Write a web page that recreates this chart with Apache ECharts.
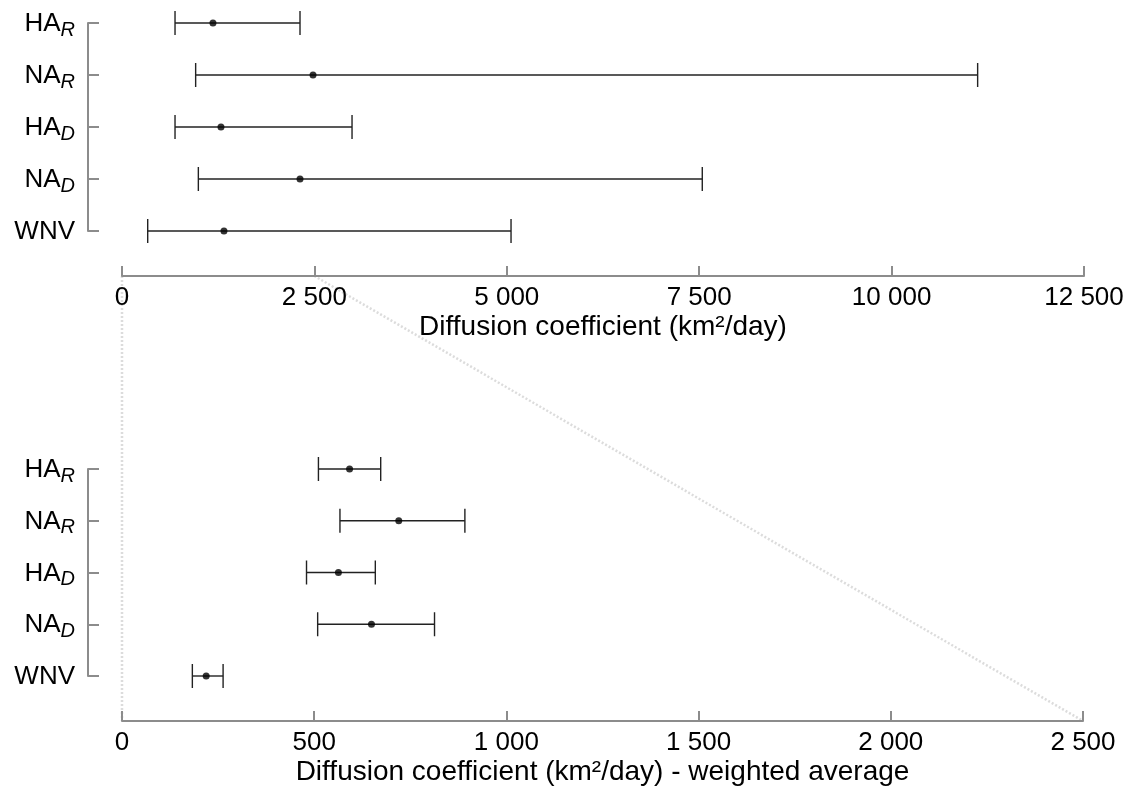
<!DOCTYPE html>
<html>
<head>
<meta charset="utf-8">
<script src="https://cdn.jsdelivr.net/npm/echarts@6/dist/echarts.min.js"></script>
<style>
  html, body { margin: 0; padding: 0; background: #fff; }
  #chart { width: 1133px; height: 789px; }
</style>
</head>
<body>
<div id="chart"></div>
<script>
// categories, top to bottom
const categories = ['HA_R', 'NA_R', 'HA_D', 'NA_D', 'WNV'];

// top panel: diffusion coefficient (km2/day)
const totalLow = [689, 957, 689, 992, 334];
const totalMean = [1182, 2482, 1286, 2313, 1325];
const totalHigh = [2313, 11118, 2989, 7540, 5055];

// bottom panel: weighted average
const weightedLow = [511, 567, 480, 509, 183];
const weightedMean = [592, 720, 563, 649, 219];
const weightedHigh = [673, 892, 659, 813, 263];

const FONT = '"Liberation Sans", Arial, Helvetica, sans-serif';
const AXIS_GRAY = '#8c8c8c';

const chart = echarts.init(document.getElementById('chart'));

const fmtNum = v => String(v).replace(/\B(?=(\d{3})+(?!\d))/g, ' ');

const catLabel = v => {
  const parts = v.split('_');
  return parts.length > 1 ? '{m|' + parts[0] + '}{s|' + parts[1] + '}' : '{m|' + v + '}';
};

const errorBars = (lows, highs) => categories.map((c, i) => [i, lows[i], highs[i]]);
const means = vals => categories.map((c, i) => [vals[i], i]);

const renderBar = (params, api) => {
  const cat = api.value(0);
  const lo = api.coord([api.value(1), cat]);
  const hi = api.coord([api.value(2), cat]);
  const h = 12;
  const style = { stroke: '#222', lineWidth: 1.4 };
  return {
    type: 'group',
    children: [
      { type: 'line', shape: { x1: lo[0], y1: lo[1], x2: hi[0], y2: hi[1] }, style },
      { type: 'line', shape: { x1: lo[0], y1: lo[1] - h, x2: lo[0], y2: lo[1] + h }, style },
      { type: 'line', shape: { x1: hi[0], y1: hi[1] - h, x2: hi[0], y2: hi[1] + h }, style }
    ]
  };
};

const xAxisBase = (gridIndex, max, interval, name) => ({
  type: 'value',
  gridIndex,
  min: 0,
  max,
  interval,
  offset: 45,
  name,
  nameLocation: 'middle',
  nameGap: 37,
  nameTextStyle: { color: '#000', fontSize: 28, fontFamily: FONT },
  axisLine: { show: true, onZero: false, lineStyle: { color: AXIS_GRAY, width: 2 } },
  axisTick: { show: true, inside: true, length: 10, lineStyle: { color: AXIS_GRAY, width: 2 } },
  axisLabel: { color: '#000', fontSize: 26, fontFamily: FONT, margin: 9, formatter: fmtNum },
  splitLine: { show: false }
});

const yAxisBase = gridIndex => ({
  type: 'category',
  gridIndex,
  data: categories,
  inverse: true,
  boundaryGap: false,
  offset: 34,
  axisLine: { show: true, onZero: false, lineStyle: { color: AXIS_GRAY, width: 2 } },
  axisTick: { show: true, inside: true, length: 11, lineStyle: { color: AXIS_GRAY, width: 2 } },
  axisLabel: {
    margin: 13,
    formatter: catLabel,
    rich: {
      m: { color: '#000', fontSize: 26, fontFamily: FONT, lineHeight: 28, verticalAlign: 'bottom' },
      s: { color: '#000', fontSize: 20, fontFamily: FONT, fontStyle: 'italic', lineHeight: 28, verticalAlign: 'bottom', padding: [0, 0, -3, 0] }
    }
  },
  splitLine: { show: false }
});

const option = {
  animation: false,
  backgroundColor: '#fff',
  grid: [
    { left: 122, right: 49, top: 23, height: 208 },
    { left: 122, right: 50, top: 469, height: 207 }
  ],
  xAxis: [
    xAxisBase(0, 12500, 2500, 'Diffusion coefficient (km²/day)'),
    xAxisBase(1, 2500, 500, 'Diffusion coefficient (km²/day) - weighted average')
  ],
  yAxis: [yAxisBase(0), yAxisBase(1)],
  series: [
    {
      type: 'custom', xAxisIndex: 0, yAxisIndex: 0,
      renderItem: renderBar, encode: { x: [1, 2], y: 0 },
      data: errorBars(totalLow, totalHigh), clip: false
    },
    {
      type: 'scatter', xAxisIndex: 0, yAxisIndex: 0,
      symbolSize: 7, itemStyle: { color: '#000' },
      data: means(totalMean)
    },
    {
      type: 'custom', xAxisIndex: 1, yAxisIndex: 1,
      renderItem: renderBar, encode: { x: [1, 2], y: 0 },
      data: errorBars(weightedLow, weightedHigh), clip: false
    },
    {
      type: 'scatter', xAxisIndex: 1, yAxisIndex: 1,
      symbolSize: 7, itemStyle: { color: '#000' },
      data: means(weightedMean)
    }
  ]
};

chart.setOption(option);

// dotted zoom guides: top 0..2500 maps onto bottom 0..2500
const topAxisY = chart.convertToPixel({ gridIndex: 0 }, [0, categories.length - 1])[1] + 45;
const botAxisY = chart.convertToPixel({ gridIndex: 1 }, [0, categories.length - 1])[1] + 45;
const guide = (xTop, xBot) => ({
  type: 'line',
  z: -1,
  silent: true,
  shape: {
    x1: chart.convertToPixel({ xAxisIndex: 0 }, xTop), y1: topAxisY,
    x2: chart.convertToPixel({ xAxisIndex: 1 }, xBot), y2: botAxisY
  },
  style: { stroke: '#dcdcdc', lineWidth: 2.5, lineDash: [2, 2] }
});
chart.setOption({ graphic: [guide(0, 0), guide(2500, 2500)] });
</script>
</body>
</html>
